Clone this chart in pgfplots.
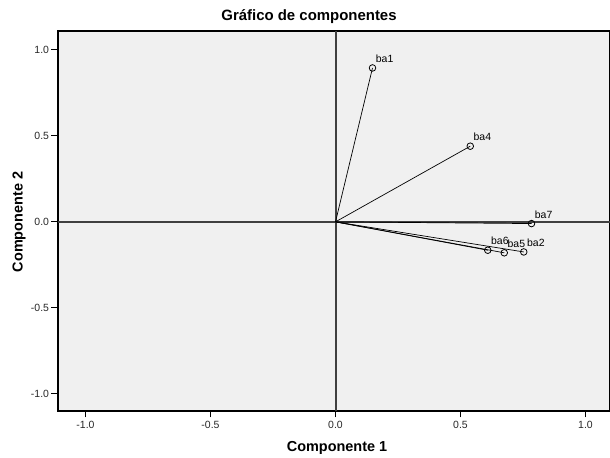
\documentclass[border=0pt]{standalone}
\usepackage{fontspec}
\setmainfont{Liberation Sans}
\usepackage{pgfplots}
\pgfplotsset{compat=1.18}
\definecolor{bgc}{HTML}{F0F0F0}
\definecolor{zl}{HTML}{404040}
\newcommand{\tkfont}{\fontsize{10.5}{12}\selectfont}
\begin{document}
\begin{tikzpicture}[x=1bp,y=1bp]
\path[use as bounding box] (-58,-47) rectangle (552,411);
\begin{axis}[at={(0,0)}, anchor=south west, scale only axis,
  width=552bp, height=380bp,
  xmin=-1.11, xmax=1.098, ymin=-1.1, ymax=1.11,
  axis background/.style={fill=bgc},
  axis line style={line width=1.3bp, black},
  xtick={-1,-0.5,0,0.5,1}, ytick={-1,-0.5,0,0.5,1},
  tick align=outside, major tick length=6.5bp,
  xtick pos=bottom, ytick pos=left,
  tick style={line width=0.9bp, black},
  xticklabel={\tkfont\pgfmathprintnumber[fixed,fixed zerofill,precision=1,assume math mode=true]{\tick}},
  yticklabel={\tkfont\pgfmathprintnumber[fixed,fixed zerofill,precision=1,assume math mode=true]{\tick}},
  xticklabel style={text=black!85},
  yticklabel style={text=black!85, xshift=1bp},
  clip=false,
]
\addplot[line width=2bp, zl, no marks] coordinates {(0,-1.1) (0,1.11)};
\addplot[line width=1.6bp, zl, no marks] coordinates {(-1.11,0) (1.098,0)};
\addplot[black, line width=0.7bp, no marks] coordinates {(0,0) (0.148,0.895)};
\addplot[black, line width=0.7bp, no marks] coordinates {(0,0) (0.539,0.440)};
\addplot[black, line width=0.7bp, no marks] coordinates {(0,0) (0.784,-0.010)};
\addplot[black, line width=0.7bp, no marks] coordinates {(0,0) (0.609,-0.165)};
\addplot[black, line width=0.7bp, no marks] coordinates {(0,0) (0.675,-0.180)};
\addplot[black, line width=0.7bp, no marks] coordinates {(0,0) (0.753,-0.175)};
\addplot[only marks, mark=o, mark size=3.3bp, black, mark options={line width=0.8bp},
  point meta=explicit symbolic, nodes near coords,
  every node near coord/.append style={anchor=south west, inner sep=0pt, xshift=3bp, yshift=5bp,
    font=\fontsize{10.5}{11}\selectfont, text=black}]
  table[meta=label] {
x y label
0.148 0.895 ba1
0.539 0.440 ba4
0.784 -0.010 ba7
0.609 -0.165 ba6
0.675 -0.180 ba5
0.753 -0.175 ba2
};
\end{axis}
\node[font=\fontsize{15}{16}\selectfont\bfseries] at (251,394) {Gráfico de componentes};
\node[font=\fontsize{14.5}{16}\selectfont\bfseries] at (279,-37) {Componente 1};
\node[font=\fontsize{14.5}{16}\selectfont\bfseries, rotate=90] at (-39,189) {Componente 2};
\end{tikzpicture}
\end{document}
